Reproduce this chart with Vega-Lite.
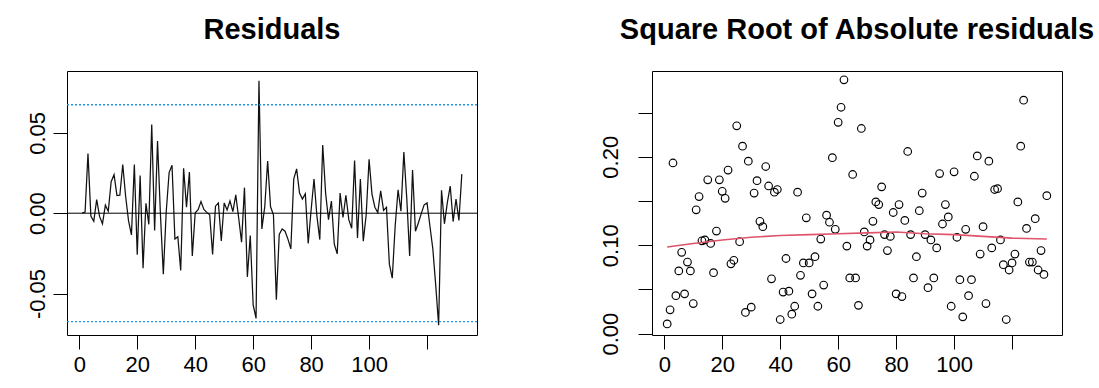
{
  "$schema": "https://vega.github.io/schema/vega-lite/v6.json",
  "background": "white",
  "padding": {"left": 25, "top": 15, "right": 0, "bottom": 0},
  "bounds": "flush",
  "spacing": 175,
  "config": {
    "font": "Liberation Sans",
    "view": {"stroke": "black", "strokeWidth": 1},
    "axis": {"grid": false, "domain": false, "tickColor": "black", "tickSize": 14, "tickWidth": 1, "labelFontSize": 22, "labelColor": "black", "labelFont": "Liberation Sans", "labelOverlap": false, "labelFlush": false, "labelBound": false, "title": null},
    "title": {"fontSize": 29, "fontWeight": "bold", "font": "Liberation Sans", "color": "black", "frame": "group", "anchor": "middle", "baseline": "alphabetic", "offset": 26}
  },
  "datasets": {
    "res": [
      {"i":1,"r":0.0001,"s":0.011},{"i":2,"r":0.0007,"s":0.027},{"i":3,"r":0.0372,"s":0.193},{"i":4,"r":-0.0018,"s":0.043},{"i":5,"r":-0.005,"s":0.071},
      {"i":6,"r":0.0085,"s":0.092},{"i":7,"r":-0.002,"s":0.045},{"i":8,"r":-0.0066,"s":0.081},{"i":9,"r":0.005,"s":0.071},{"i":10,"r":0.0012,"s":0.034},
      {"i":11,"r":0.0196,"s":0.14},{"i":12,"r":0.024,"s":0.155},{"i":13,"r":0.011,"s":0.105},{"i":14,"r":0.0112,"s":0.106},{"i":15,"r":0.0303,"s":0.174},
      {"i":16,"r":0.0104,"s":0.102},{"i":17,"r":-0.0048,"s":0.069},{"i":18,"r":-0.0135,"s":0.116},{"i":19,"r":0.0303,"s":0.174},{"i":20,"r":-0.0259,"s":0.161},
      {"i":21,"r":0.0234,"s":0.153},{"i":22,"r":-0.0342,"s":0.185},{"i":23,"r":0.0062,"s":0.079},{"i":24,"r":-0.0069,"s":0.083},{"i":25,"r":0.0552,"s":0.235},
      {"i":26,"r":-0.0108,"s":0.104},{"i":27,"r":0.0449,"s":0.212},{"i":28,"r":-0.0006,"s":0.024},{"i":29,"r":-0.038,"s":0.195},{"i":30,"r":0.0009,"s":0.03},
      {"i":31,"r":0.0253,"s":0.159},{"i":32,"r":0.0299,"s":0.173},{"i":33,"r":-0.0161,"s":0.127},{"i":34,"r":-0.0146,"s":0.121},{"i":35,"r":-0.0357,"s":0.189},
      {"i":36,"r":0.0279,"s":0.167},{"i":37,"r":0.0038,"s":0.062},{"i":38,"r":0.0256,"s":0.16},{"i":39,"r":-0.0266,"s":0.163},{"i":40,"r":0.0003,"s":0.016},
      {"i":41,"r":0.0022,"s":0.047},{"i":42,"r":0.0072,"s":0.085},{"i":43,"r":0.0023,"s":0.048},{"i":44,"r":0.0005,"s":0.022},{"i":45,"r":-0.001,"s":0.031},
      {"i":46,"r":-0.0256,"s":0.16},{"i":47,"r":0.0044,"s":0.066},{"i":48,"r":0.0064,"s":0.08},{"i":49,"r":-0.0172,"s":0.131},{"i":50,"r":0.0064,"s":0.08},
      {"i":51,"r":0.002,"s":0.045},{"i":52,"r":0.0076,"s":0.087},{"i":53,"r":0.001,"s":0.031},{"i":54,"r":0.0114,"s":0.107},{"i":55,"r":-0.003,"s":0.055},
      {"i":56,"r":-0.018,"s":0.134},{"i":57,"r":0.0159,"s":0.126},{"i":58,"r":-0.0396,"s":0.199},{"i":59,"r":-0.0139,"s":0.118},{"i":60,"r":-0.0571,"s":0.239},
      {"i":61,"r":-0.0655,"s":0.256},{"i":62,"r":0.0824,"s":0.287},{"i":63,"r":-0.0098,"s":0.099},{"i":64,"r":0.004,"s":0.063},{"i":65,"r":0.0324,"s":0.18},
      {"i":66,"r":0.004,"s":0.063},{"i":67,"r":-0.001,"s":0.032},{"i":68,"r":-0.0538,"s":0.232},{"i":69,"r":-0.0132,"s":0.115},{"i":70,"r":-0.0098,"s":0.099},
      {"i":71,"r":-0.0112,"s":0.106},{"i":72,"r":-0.0161,"s":0.127},{"i":73,"r":-0.0222,"s":0.149},{"i":74,"r":0.0213,"s":0.146},{"i":75,"r":0.0276,"s":0.166},
      {"i":76,"r":0.0125,"s":0.112},{"i":77,"r":0.0088,"s":0.094},{"i":78,"r":0.0121,"s":0.11},{"i":79,"r":-0.0188,"s":0.137},{"i":80,"r":0.002,"s":0.045},
      {"i":81,"r":0.0213,"s":0.146},{"i":82,"r":-0.0018,"s":0.042},{"i":83,"r":-0.0164,"s":0.128},{"i":84,"r":0.0424,"s":0.206},{"i":85,"r":0.0125,"s":0.112},
      {"i":86,"r":-0.004,"s":0.063},{"i":87,"r":0.0076,"s":0.087},{"i":88,"r":-0.0193,"s":0.139},{"i":89,"r":-0.0253,"s":0.159},{"i":90,"r":0.0125,"s":0.112},
      {"i":91,"r":-0.0027,"s":0.052},{"i":92,"r":0.0112,"s":0.106},{"i":93,"r":-0.004,"s":0.063},{"i":94,"r":-0.0094,"s":0.097},{"i":95,"r":0.0328,"s":0.181},
      {"i":96,"r":-0.0154,"s":0.124},{"i":97,"r":0.0213,"s":0.146},{"i":98,"r":-0.0174,"s":0.132},{"i":99,"r":-0.001,"s":0.031},{"i":100,"r":0.0335,"s":0.183},
      {"i":101,"r":0.0119,"s":0.109},{"i":102,"r":0.0037,"s":0.061},{"i":103,"r":0.0004,"s":0.019},{"i":104,"r":0.0139,"s":0.118},{"i":105,"r":0.0018,"s":0.043},
      {"i":106,"r":0.0037,"s":0.061},{"i":107,"r":-0.0317,"s":0.178},{"i":108,"r":-0.0404,"s":0.201},{"i":109,"r":-0.0081,"s":0.09},{"i":110,"r":0.0146,"s":0.121},
      {"i":111,"r":0.0012,"s":0.034},{"i":112,"r":0.038,"s":0.195},{"i":113,"r":0.0094,"s":0.097},{"i":114,"r":-0.0266,"s":0.163},{"i":115,"r":0.0269,"s":0.164},
      {"i":116,"r":-0.0112,"s":0.106},{"i":117,"r":-0.0061,"s":0.078},{"i":118,"r":-0.0003,"s":0.016},{"i":119,"r":0.0052,"s":0.072},{"i":120,"r":0.0064,"s":0.08},
      {"i":121,"r":-0.0081,"s":0.09},{"i":122,"r":-0.0222,"s":0.149},{"i":123,"r":-0.0449,"s":0.212},{"i":124,"r":-0.0697,"s":0.264},{"i":125,"r":0.0142,"s":0.119},
      {"i":126,"r":-0.0066,"s":0.081},{"i":127,"r":0.0066,"s":0.081},{"i":128,"r":0.0169,"s":0.13},{"i":129,"r":-0.0052,"s":0.072},{"i":130,"r":0.0088,"s":0.094},
      {"i":131,"r":-0.0045,"s":0.067},{"i":132,"r":0.0243,"s":0.156}
    ],
    "bands": [{"y": 0.0675}, {"y": -0.0675}],
    "zero": [{"y": 0}],
    "smooth": [
      {"i":1,"v":0.098},{"i":10,"v":0.102},{"i":20,"v":0.106},{"i":30,"v":0.109},{"i":40,"v":0.111},{"i":50,"v":0.112},{"i":60,"v":0.113},
      {"i":70,"v":0.114},{"i":80,"v":0.115},{"i":90,"v":0.113},{"i":100,"v":0.112},{"i":110,"v":0.11},{"i":120,"v":0.108},{"i":132,"v":0.107}
    ]
  },
  "hconcat": [
    {
      "width": 410,
      "height": 264,
      "title": {"text": "Residuals"},
      "layer": [
        {
          "data": {"name": "res"},
          "mark": {"type": "line", "color": "#111111", "strokeWidth": 1.25},
          "encoding": {
            "x": {"field": "i", "type": "quantitative",
                  "scale": {"domain": [-4.24, 137.24], "nice": false, "zero": false},
                  "axis": {"values": [0, 20, 40, 60, 80, 100, 120], "labelExpr": "datum.value == 120 ? '' : datum.label", "labelPadding": 5}},
            "y": {"field": "r", "type": "quantitative",
                  "scale": {"domain": [-0.0758, 0.0885], "nice": false, "zero": false},
                  "axis": {"values": [-0.05, 0, 0.05], "labelExpr": "datum.value < 0 ? '-' + format(-datum.value, '.2f') : format(datum.value, '.2f')", "labelAngle": -90, "labelAlign": "center", "labelBaseline": "bottom", "labelPadding": 4}}
          }
        },
        {
          "data": {"name": "zero"},
          "mark": {"type": "rule", "color": "black", "strokeWidth": 1},
          "encoding": {"y": {"field": "y", "type": "quantitative"}}
        },
        {
          "data": {"name": "bands"},
          "mark": {"type": "rule", "color": "#2297E6", "strokeWidth": 1.3, "strokeDash": [2, 2]},
          "encoding": {"y": {"field": "y", "type": "quantitative"}}
        }
      ]
    },
    {
      "width": 410,
      "height": 264,
      "title": {"text": "Square Root of Absolute residuals"},
      "layer": [
        {
          "data": {"name": "res"},
          "mark": {"type": "point", "shape": "circle", "filled": false, "color": "black", "size": 58, "strokeWidth": 1.15, "opacity": 1},
          "encoding": {
            "x": {"field": "i", "type": "quantitative",
                  "scale": {"domain": [-4.24, 137.24], "nice": false, "zero": false},
                  "axis": {"values": [0, 20, 40, 60, 80, 100, 120], "labelExpr": "datum.value == 120 ? '' : datum.label", "labelPadding": 5}},
            "y": {"field": "s", "type": "quantitative",
                  "scale": {"domain": [-0.0015, 0.297], "nice": false, "zero": false},
                  "axis": {"values": [0, 0.05, 0.1, 0.15, 0.2, 0.25], "labelExpr": "(datum.value < 0.001 || abs(datum.value - 0.1) < 0.001 || abs(datum.value - 0.2) < 0.001) ? format(datum.value, '.2f') : ''", "labelAngle": -90, "labelAlign": "center", "labelBaseline": "bottom", "labelPadding": 16}}
          }
        },
        {
          "data": {"name": "smooth"},
          "mark": {"type": "line", "color": "#DF536B", "strokeWidth": 1.6},
          "encoding": {
            "x": {"field": "i", "type": "quantitative"},
            "y": {"field": "v", "type": "quantitative"}
          }
        }
      ]
    }
  ]
}
